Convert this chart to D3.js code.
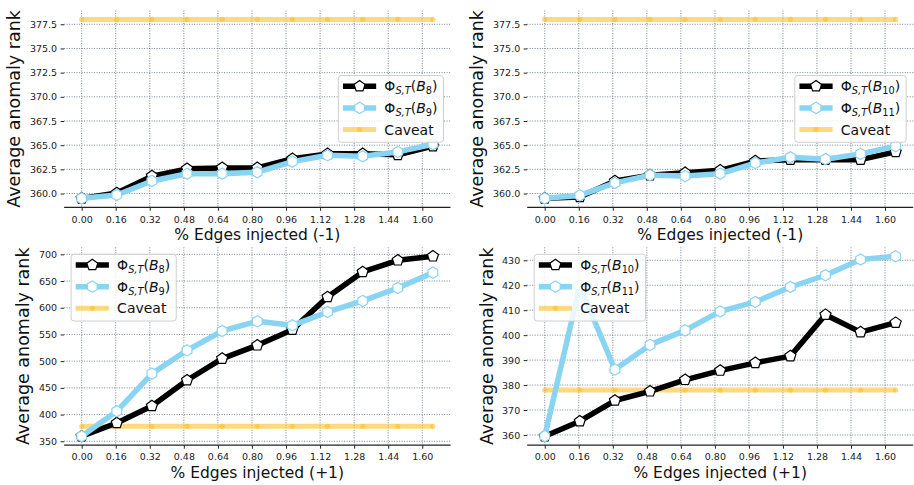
<!DOCTYPE html>
<html>
<head>
<meta charset="utf-8">
<script src="https://cdn.jsdelivr.net/npm/d3@7"></script>
<style>
  html, body { margin: 0; padding: 0; background: #fff; }
  svg { display: block; font-family: "DejaVu Sans", sans-serif; }
</style>
</head>
<body>
<svg id="chart" width="914" height="485"></svg>
<script>
// Injection levels (% of edges) at which the detectors were evaluated
const injected = [0.000, 0.165, 0.330, 0.495, 0.660, 0.825, 0.990, 1.155, 1.320, 1.485, 1.650];
const xTickValues = [0.00, 0.16, 0.32, 0.48, 0.64, 0.80, 0.96, 1.12, 1.28, 1.44, 1.60];

// Caveat baseline rank (constant)
const caveatRank = [378, 378, 378, 378, 378, 378, 378, 378, 378, 378, 378];

// Average anomaly rank, edges removed (-1)
const negB8  = [359.5, 360.05, 361.8, 362.55, 362.65, 362.65, 363.6, 364.1, 364.1, 364.0, 364.9];
const negB9  = [359.5, 359.85, 361.3, 362.05, 362.05, 362.2, 363.3, 363.95, 363.85, 364.3, 365.1];
const negB10 = [359.5, 359.65, 361.3, 361.9, 362.15, 362.4, 363.35, 363.5, 363.5, 363.5, 364.3];
const negB11 = [359.5, 359.8, 361.1, 361.9, 361.8, 362.05, 363.15, 363.75, 363.55, 364.1, 364.9];

// Average anomaly rank, edges added (+1)
const posB8  = [359.5, 384.3, 416.1, 464.2, 504.7, 529.7, 559.0, 620.2, 667.0, 688.8, 696.3];
const posB9  = [359.5, 406.2, 476.7, 520.3, 556.5, 574.6, 567.1, 592.1, 612.7, 637.0, 665.7];
const posB10 = [359.5, 365.5, 373.8, 377.5, 382.1, 385.8, 388.9, 391.6, 408.2, 401.2, 405.0];
const posB11 = [359.5, 419.7, 386.2, 396.1, 401.9, 409.5, 413.3, 419.3, 424.0, 430.3, 431.6];

const yTicksNeg     = [360, 362.5, 365, 367.5, 370, 372.5, 375, 377.5];
const yTicksPosLow  = [350, 400, 450, 500, 550, 600, 650, 700];
const yTicksPosHigh = [360, 370, 380, 390, 400, 410, 420, 430];

const COLOR_A = "#000000";
const COLOR_B = "#89d4f3";
const COLOR_CAVEAT = "#fdbf2d";

// Regular polygon marker with a vertex pointing up (size = radius^2)
function polygonSymbol(n) {
  return {
    draw(ctx, size) {
      const r = Math.sqrt(size);
      for (let i = 0; i < n; i++) {
        const a = -Math.PI / 2 + i * 2 * Math.PI / n;
        const px = r * Math.cos(a), py = r * Math.sin(a);
        if (i === 0) ctx.moveTo(px, py); else ctx.lineTo(px, py);
      }
      ctx.closePath();
    }
  };
}
const pentagon = d3.symbol().type(polygonSymbol(5)).size(5.8 * 5.8);
const hexagon  = d3.symbol().type(polygonSymbol(6)).size(5.6 * 5.6);

const panels = [
  { a: negB8,  b: negB9,  subs: ["8", "9"],   yTicks: yTicksNeg,     fmt: d3.format(".1f"),
    xLabel: "% Edges injected (-1)", box: { x0: 64.1, x1: 450.5, y0: 10.5, y1: 207.3 }, legend: "center right" },
  { a: negB10, b: negB11, subs: ["10", "11"], yTicks: yTicksNeg,     fmt: d3.format(".1f"),
    xLabel: "% Edges injected (-1)", box: { x0: 527.2, x1: 913.2, y0: 10.5, y1: 207.3 }, legend: "center right" },
  { a: posB8,  b: posB9,  subs: ["8", "9"],   yTicks: yTicksPosLow,  fmt: d3.format("d"),
    xLabel: "% Edges injected (+1)", box: { x0: 64.1, x1: 450.5, y0: 247.3, y1: 445.2 }, legend: "upper left" },
  { a: posB10, b: posB11, subs: ["10", "11"], yTicks: yTicksPosHigh, fmt: d3.format("d"),
    xLabel: "% Edges injected (+1)", box: { x0: 527.2, x1: 913.2, y0: 247.3, y1: 445.2 }, legend: "upper left" }
];

const svg = d3.select("#chart");

// Legend label Φ_{S,T}(B_n) as tspans
function phiLabel(text, sub) {
  text.append("tspan").text("Φ");
  text.append("tspan").attr("font-size", "9.8px").attr("font-style", "italic").attr("dy", 3.2).text("S,T");
  text.append("tspan").attr("dy", -3.2).text("(");
  text.append("tspan").attr("font-style", "italic").text("B");
  text.append("tspan").attr("font-size", "9.8px").attr("dy", 3.2).text(sub);
  text.append("tspan").attr("dy", -3.2).text(")");
}

panels.forEach(p => {
  const { x0, x1, y0, y1 } = p.box;
  const g = svg.append("g");

  const x = d3.scaleLinear().domain([-0.0825, 1.7325]).range([x0, x1]);
  const all = p.a.concat(p.b, caveatRank);
  const lo = d3.min(all), hi = d3.max(all), pad = (hi - lo) * 0.05;
  const y = d3.scaleLinear().domain([lo - pad, hi + pad]).range([y1, y0]);

  // dotted grid
  const grid = g.append("g")
    .attr("stroke", "#5a6a7c").attr("stroke-opacity", 0.9)
    .attr("stroke-width", 0.9).attr("stroke-dasharray", "1,1.5");
  grid.selectAll("line.v").data(xTickValues).join("line").attr("class", "v")
    .attr("x1", d => x(d)).attr("x2", d => x(d)).attr("y1", y0).attr("y2", y1);
  grid.selectAll("line.h").data(p.yTicks).join("line").attr("class", "h")
    .attr("x1", x0).attr("x2", x1).attr("y1", d => y(d)).attr("y2", d => y(d));

  // axes
  const xAxis = g.append("g").attr("transform", `translate(0,${y1})`)
    .call(d3.axisBottom(x).tickValues(xTickValues).tickFormat(d3.format(".2f")).tickSize(3.5).tickPadding(5));
  xAxis.select(".domain").remove();
  xAxis.selectAll("text").attr("font-size", "9.5px").attr("font-family", "DejaVu Sans").attr("fill", "#222");
  xAxis.selectAll(".tick line").attr("stroke", "#222");
  g.append("line").attr("x1", x0).attr("x2", x1).attr("y1", y1).attr("y2", y1)
    .attr("stroke", "#222").attr("stroke-width", 1.2);

  const yAxis = g.append("g").attr("transform", `translate(${x0},0)`)
    .call(d3.axisLeft(y).tickValues(p.yTicks).tickFormat(p.fmt).tickSize(3.5).tickPadding(3.5));
  yAxis.select(".domain").remove();
  yAxis.selectAll("text").attr("font-size", "9.5px").attr("font-family", "DejaVu Sans").attr("fill", "#222");
  yAxis.selectAll(".tick line").attr("stroke", "#222");

  const yb = yAxis.node().getBBox();
  g.append("text")
    .attr("transform", `translate(${x0 + yb.x - 9.5},${(y0 + y1) / 2}) rotate(-90)`)
    .attr("text-anchor", "middle").attr("font-size", "17.5px").attr("fill", "#111")
    .text("Average anomaly rank");

  g.append("text")
    .attr("x", (x0 + x1) / 2).attr("y", y1 + 32.5)
    .attr("text-anchor", "middle").attr("font-size", "15.5px").attr("fill", "#111")
    .text(p.xLabel);

  const line = d3.line().x((d, i) => x(injected[i])).y(d => y(d));

  // caveat baseline
  const cav = g.append("g");
  cav.append("path").datum(caveatRank).attr("d", line)
    .attr("fill", "none").attr("stroke", COLOR_CAVEAT).attr("stroke-opacity", 0.6).attr("stroke-width", 5);
  cav.selectAll("circle").data(caveatRank).join("circle")
    .attr("cx", (d, i) => x(injected[i])).attr("cy", d => y(d)).attr("r", 2.6)
    .attr("fill", COLOR_CAVEAT).attr("fill-opacity", 0.6);

  // series A (pentagons)
  g.append("path").datum(p.a).attr("d", line)
    .attr("fill", "none").attr("stroke", COLOR_A).attr("stroke-width", 5.5).attr("stroke-linejoin", "round");
  g.selectAll("path.mA").data(p.a).join("path").attr("class", "mA")
    .attr("transform", (d, i) => `translate(${x(injected[i])},${y(d)})`)
    .attr("d", pentagon).attr("fill", "#fff").attr("stroke", COLOR_A).attr("stroke-width", 1.2);

  // series B (hexagons)
  g.append("path").datum(p.b).attr("d", line)
    .attr("fill", "none").attr("stroke", COLOR_B).attr("stroke-width", 5.5).attr("stroke-linejoin", "round");
  g.selectAll("path.mB").data(p.b).join("path").attr("class", "mB")
    .attr("transform", (d, i) => `translate(${x(injected[i])},${y(d)})`)
    .attr("d", hexagon).attr("fill", "#fff").attr("stroke", COLOR_B).attr("stroke-width", 1.2);

  // legend
  const lg = g.append("g");
  const frame = lg.append("rect").attr("rx", 3).attr("fill", "#fff").attr("fill-opacity", 0.8)
    .attr("stroke", "#cfcfcf").attr("stroke-width", 1);
  const rows = [
    { kind: "a", sub: p.subs[0] },
    { kind: "b", sub: p.subs[1] },
    { kind: "c", label: "Caveat" }
  ];
  let maxW = 0;
  rows.forEach((r, i) => {
    const cy = 10.7 + i * 21.65;
    const hx0 = 4.6, hx1 = 37.8, hm = (hx0 + hx1) / 2;
    if (r.kind === "a") {
      lg.append("line").attr("x1", hx0).attr("x2", hx1).attr("y1", cy).attr("y2", cy)
        .attr("stroke", COLOR_A).attr("stroke-width", 5.5);
      lg.append("path").attr("transform", `translate(${hm},${cy})`).attr("d", pentagon)
        .attr("fill", "#fff").attr("stroke", COLOR_A).attr("stroke-width", 1.2);
    } else if (r.kind === "b") {
      lg.append("line").attr("x1", hx0).attr("x2", hx1).attr("y1", cy).attr("y2", cy)
        .attr("stroke", COLOR_B).attr("stroke-width", 5.5);
      lg.append("path").attr("transform", `translate(${hm},${cy})`).attr("d", hexagon)
        .attr("fill", "#fff").attr("stroke", COLOR_B).attr("stroke-width", 1.2);
    } else {
      lg.append("line").attr("x1", hx0).attr("x2", hx1).attr("y1", cy).attr("y2", cy)
        .attr("stroke", COLOR_CAVEAT).attr("stroke-opacity", 0.6).attr("stroke-width", 5);
      lg.append("circle").attr("cx", hm).attr("cy", cy).attr("r", 2.6)
        .attr("fill", COLOR_CAVEAT).attr("fill-opacity", 0.6);
    }
    const t = lg.append("text").attr("x", 46).attr("y", cy + 5).attr("font-size", "14px").attr("fill", "#111");
    if (r.kind === "c") t.text(r.label); else phiLabel(t, r.sub);
    maxW = Math.max(maxW, t.node().getBBox().width);
  });
  const lw = 46 + maxW + 6, lh = 66.7;
  frame.attr("x", 0).attr("y", 0).attr("width", lw).attr("height", lh);
  let lx, ly;
  if (p.legend === "center right") { lx = x1 - 7 - lw; ly = (y0 + y1) / 2 - lh / 2; }
  else { lx = x0 + 7; ly = y0 + 7; }
  lg.attr("transform", `translate(${lx},${ly})`);
});
</script>
</body>
</html>
